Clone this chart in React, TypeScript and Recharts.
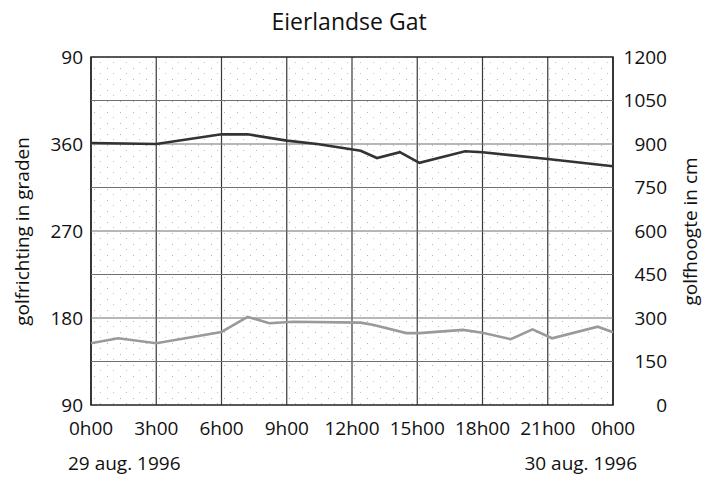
import React from 'react';
import {
  LineChart, Line, XAxis, YAxis, CartesianGrid, ReferenceLine, ReferenceArea
} from 'recharts';

// hours since 29 aug. 1996 0h00
const hourTicks = [0, 3, 6, 9, 12, 15, 18, 21, 24];
const degreeTicks = [90, 180, 270, 360, 450];
const heightTicks = [0, 150, 300, 450, 600, 750, 900, 1050, 1200];

// golfrichting (graden)
const directionHours = [0, 3, 6, 7.2, 9, 10.4, 12.4, 13.15, 14.2, 15.1, 17.2, 18, 21, 24];
const directionValues = [361, 360, 370, 370, 363.5, 360, 353, 345.5, 351.5, 340.5, 352.5, 351.5, 344.5, 337];

// golfhoogte (cm)
const heightHours = [0, 1.25, 3, 6, 7.2, 8.2, 9.3, 12.4, 13, 14.5, 15.1, 17.1, 18, 19.3, 20.3, 21.2, 23.3, 24];
const heightValues = [213, 230, 213, 252, 304, 282, 287, 284, 276, 248, 248, 259, 249, 227, 261, 230, 270, 251];

const directionData = directionHours.map((h, i) => ({ h, richting: directionValues[i] }));
const heightData = heightHours.map((h, i) => ({ h, hoogte: heightValues[i] }));

const FONT = '"Open Sans", sans-serif';
const TXT = '#111';

const RightTick = (props: any) => {
  const { x, y, payload } = props;
  return (
    <text x={x + 46} y={y} dy="0.355em" textAnchor="end" fill={TXT} fontSize={19} fontFamily={FONT}>
      {payload.value}
    </text>
  );
};

const App: React.FC = () => {
  return (
    <div style={{ position: 'absolute', left: 0, top: 0, width: 707, height: 483, background: '#fff', fontFamily: FONT, color: TXT }}>
      <div style={{ position: 'absolute', left: 0, width: 698, top: 9.6, fontSize: 23, lineHeight: '23px', textAlign: 'center' }}>
        Eierlandse Gat
      </div>

      <LineChart width={707} height={483} margin={{ top: 57, right: 0, bottom: 0, left: 0 }}>
        <defs>
          <pattern id="dots" width="13" height="11" patternUnits="userSpaceOnUse">
            <rect x="3" y="2" width="1" height="1" fill="#b5b5b5" />
            <rect x="9" y="7" width="1" height="1" fill="#c4c4c4" />
          </pattern>
        </defs>
        <ReferenceArea yAxisId="right" x1={0} x2={24} y1={0} y2={1200} fill="url(#dots)" fillOpacity={1} stroke="none" />
        <CartesianGrid horizontal={false} stroke="#3a3a3a" strokeWidth={1.2} />
        {heightTicks.slice(1, -1).map((v) => (
          <ReferenceLine key={v} yAxisId="right" y={v} stroke="#707070" strokeWidth={1.2} />
        ))}
        <ReferenceArea yAxisId="right" x1={0} x2={24} y1={0} y2={1200} fill="none" stroke="#222" strokeWidth={1.6} />
        <XAxis
          type="number"
          dataKey="h"
          domain={[0, 24]}
          ticks={hourTicks}
          tickFormatter={(v: number) => `${v % 24}h00`}
          axisLine={false}
          tickLine={false}
          tickMargin={11}
          height={78}
          tick={{ fill: TXT, fontSize: 19, fontFamily: FONT }}
          allowDuplicatedCategory={false}
        />
        <YAxis
          yAxisId="left"
          orientation="left"
          width={91}
          domain={[90, 450]}
          ticks={degreeTicks}
          tickFormatter={(v: number) => String(v > 360 ? v - 360 : v)}
          axisLine={false}
          tickLine={false}
          tick={{ fill: TXT, fontSize: 19, fontFamily: FONT }}
        />
        <YAxis
          yAxisId="right"
          orientation="right"
          width={94}
          domain={[0, 1200]}
          ticks={heightTicks}
          axisLine={false}
          tickLine={false}
          tick={<RightTick />}
        />
        <Line
          yAxisId="right"
          data={heightData}
          dataKey="hoogte"
          type="linear"
          stroke="#9a9a9a"
          strokeWidth={2.6}
          dot={false}
          isAnimationActive={false}
        />
        <Line
          yAxisId="left"
          data={directionData}
          dataKey="richting"
          type="linear"
          stroke="#333"
          strokeWidth={2.6}
          dot={false}
          isAnimationActive={false}
        />
      </LineChart>

      <div style={{ position: 'absolute', left: 22 - 150, top: 231 - 9.5, width: 300, fontSize: 19, lineHeight: '19px', textAlign: 'center', transform: 'rotate(-90deg)', whiteSpace: 'nowrap' }}>
        golfrichting in graden
      </div>
      <div style={{ position: 'absolute', left: 690 - 150, top: 231 - 9.5, width: 300, fontSize: 19, lineHeight: '19px', textAlign: 'center', transform: 'rotate(-90deg)', whiteSpace: 'nowrap' }}>
        golfhoogte in cm
      </div>

      <div style={{ position: 'absolute', left: 68, top: 454, fontSize: 19, lineHeight: '19px', whiteSpace: 'nowrap' }}>
        29 aug. 1996
      </div>
      <div style={{ position: 'absolute', right: 70, top: 454, fontSize: 19, lineHeight: '19px', whiteSpace: 'nowrap' }}>
        30 aug. 1996
      </div>
    </div>
  );
};

export default App;
